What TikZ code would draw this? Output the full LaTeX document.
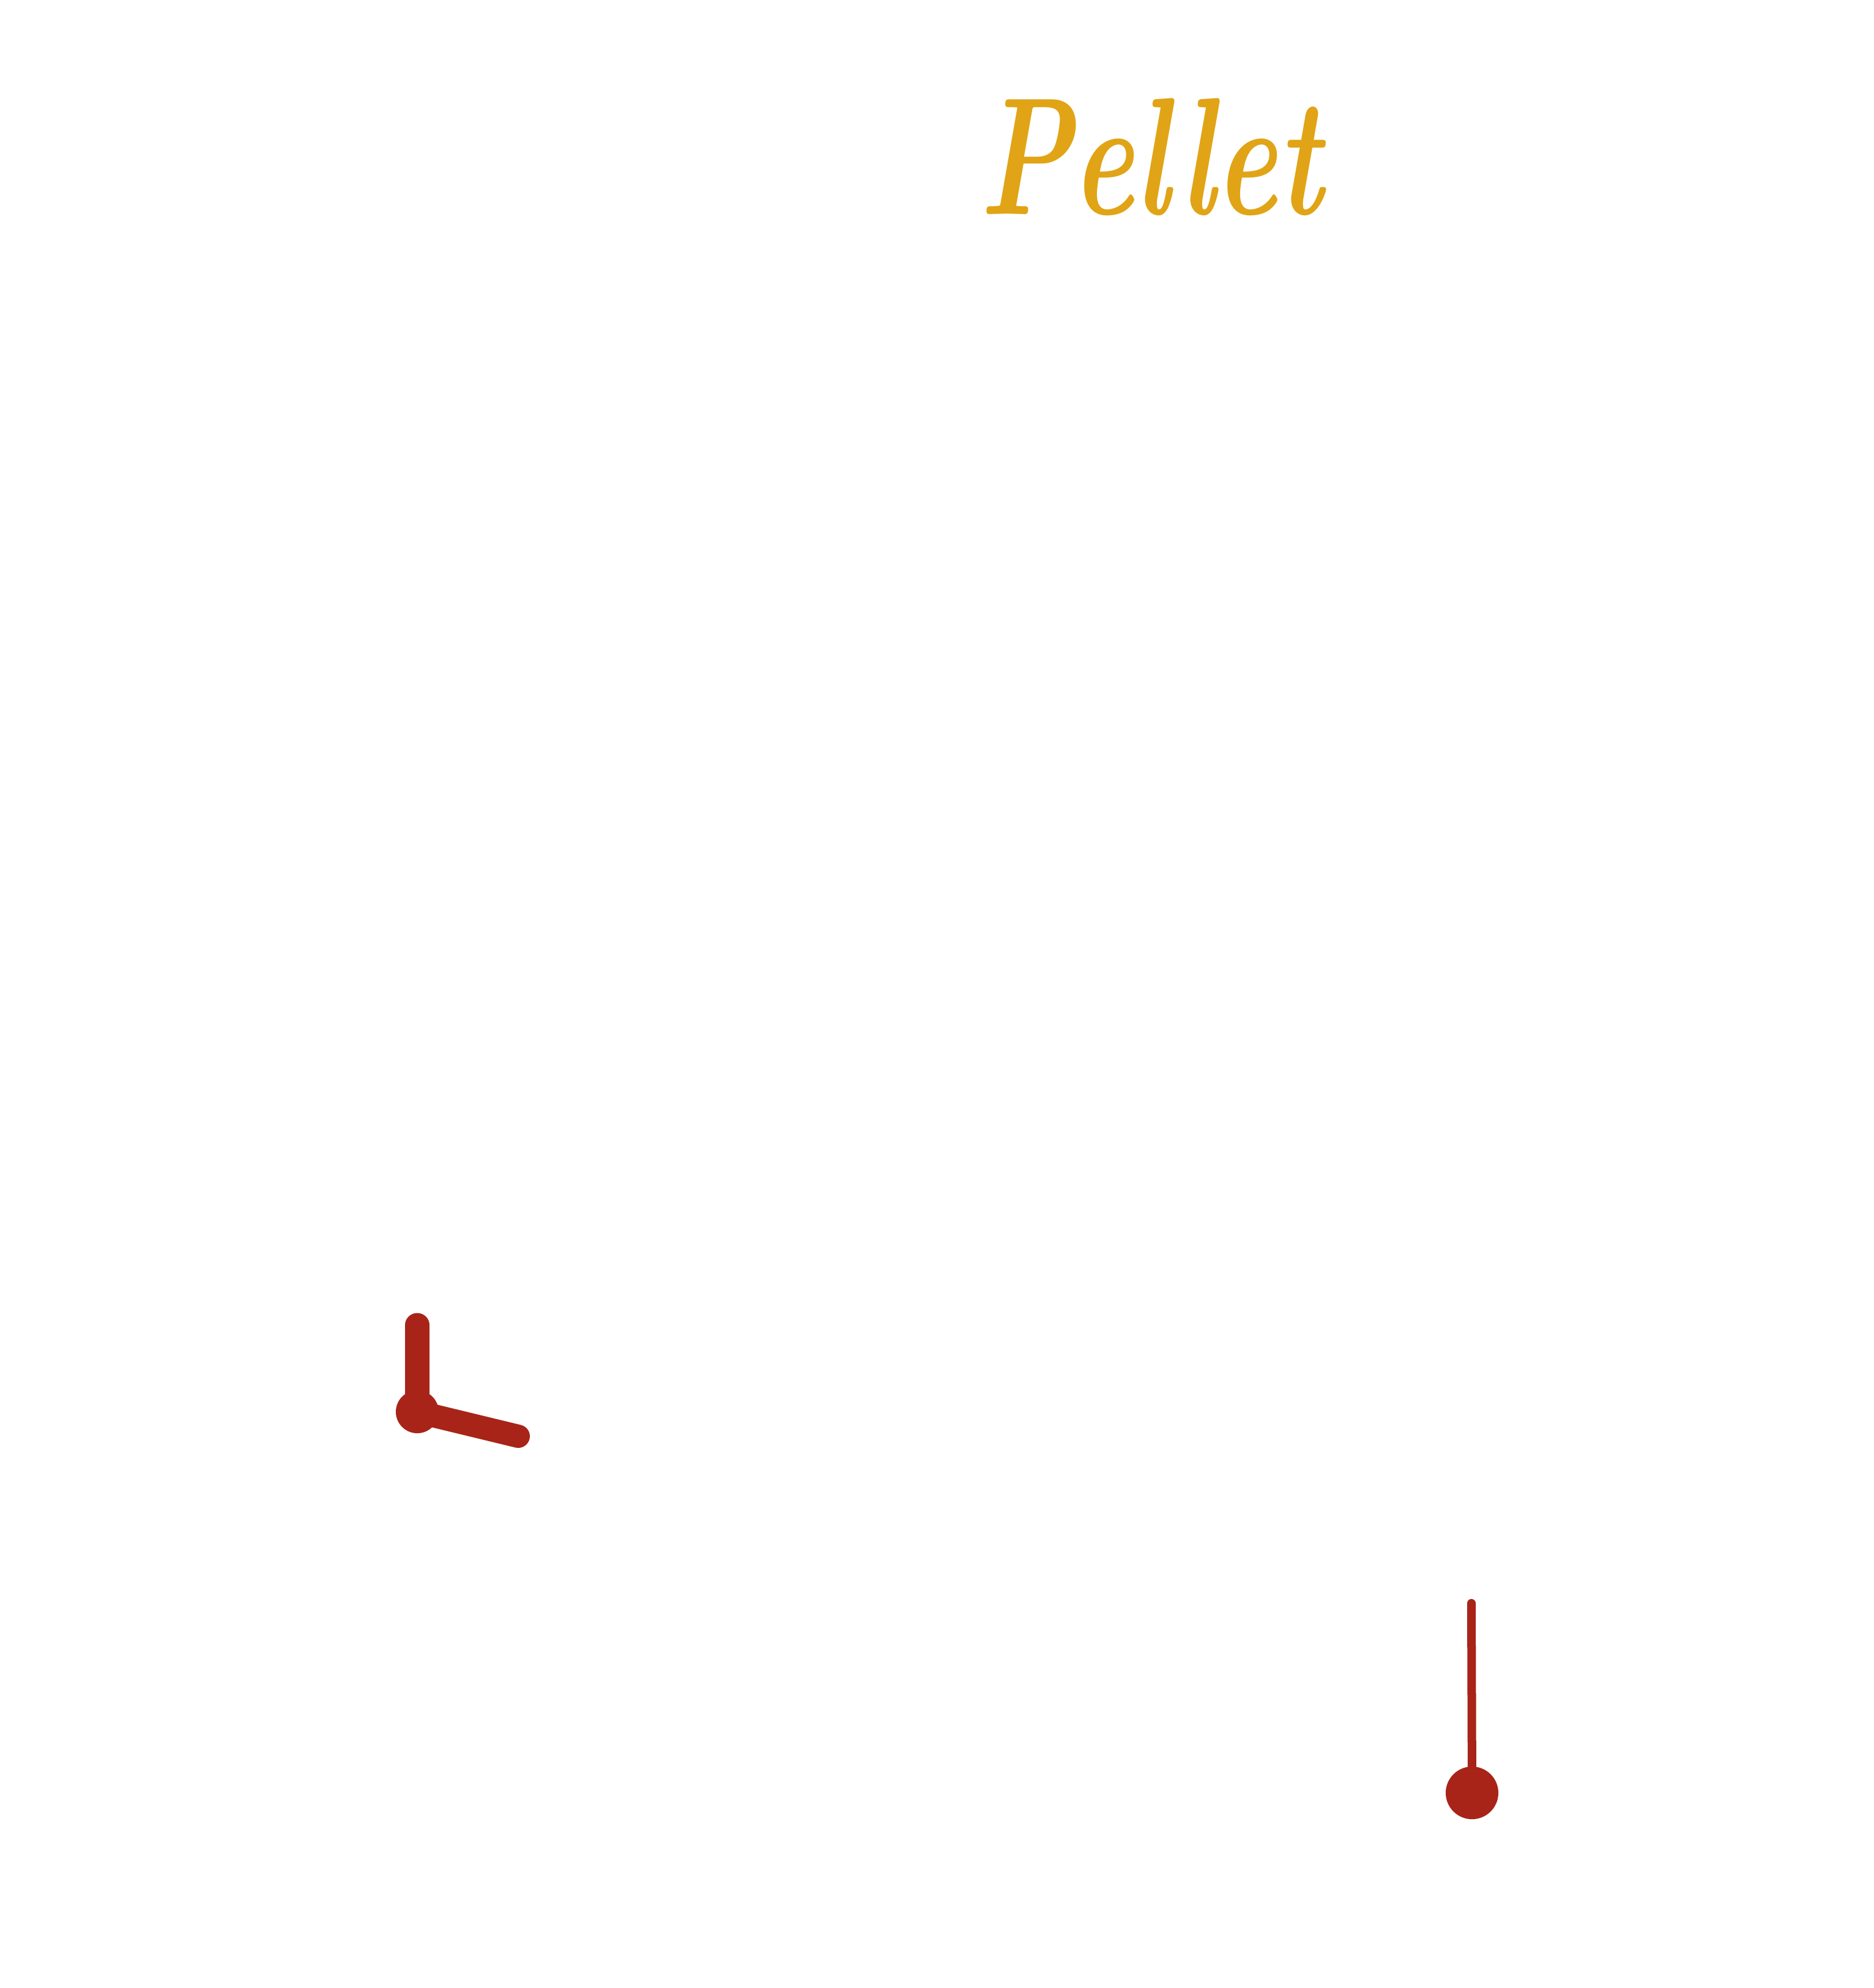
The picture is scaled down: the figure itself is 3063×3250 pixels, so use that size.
\documentclass[tikz,border=0pt]{standalone}
\usepackage{graphicx}
\definecolor{pelletgold}{HTML}{E0A416}
\definecolor{handred}{HTML}{A82418}
\begin{document}
\begin{tikzpicture}[x=0.01cm,y=-0.01cm,
  hand/.style={draw=handred,line cap=round},
  hub/.style={fill=handred}]
\useasboundingbox (0,0) rectangle (3063,3250);
% title
\node[anchor=base west,inner sep=0pt,text=pelletgold] (title) at (1600,350)
  {\resizebox{5.6cm}{1.9cm}{\bfseries\itshape Pellet}};
% clock
\coordinate (clockc) at (682,2308);
\coordinate (clocktop) at (682,2166);
\coordinate (clockend) at (847,2348);
\draw[hand,line width=0.39cm] (clockc) -- (clocktop);
\draw[hand,line width=0.38cm] (clockc) -- (clockend);
\fill[hub] (clockc) circle[radius=0.35cm];
% thermometer
\coordinate (thtop) at (2405,2621);
\coordinate (thbulb) at (2406,2931);
\draw[hand,line width=0.14cm] (thtop) -- (thbulb);
\fill[hub] (thbulb) circle[radius=0.43cm];
\end{tikzpicture}
\end{document}
